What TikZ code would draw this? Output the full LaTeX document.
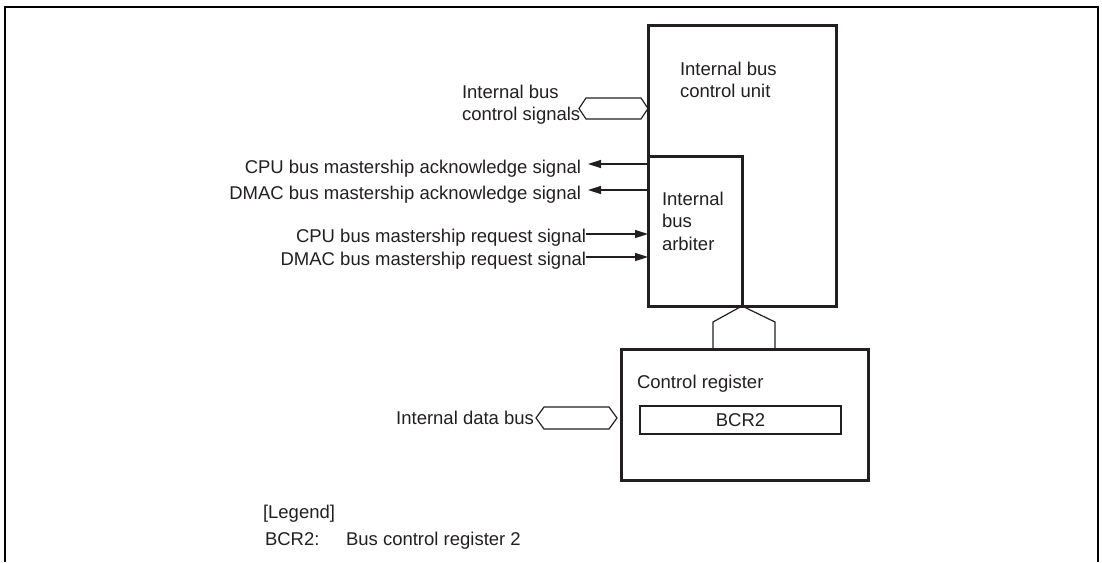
\documentclass[tikz,border=0pt]{standalone}
\usepackage{fontspec}
\setmainfont{Liberation Sans}
\usetikzlibrary{arrows.meta, positioning}
\definecolor{inkgray}{HTML}{231F20}

\begin{document}
\begin{tikzpicture}[x=1pt, y=-1pt,
    every node/.style={font=\fontsize{18.5}{22.5}\selectfont, text=inkgray},
    blockbox/.style={draw=inkgray, line width=3pt, fill=white, inner sep=0pt, outer sep=0pt, anchor=north west},
    lbl/.style={inner sep=0pt, outer sep=0pt},
    busline/.style={draw=inkgray, line width=1.2pt},
    sigarrow/.style={draw=inkgray, line width=1.5pt, -{Triangle[length=13pt, width=8pt]}}]
  \useasboundingbox (0,0) rectangle (1102,562);
  % page frame
  \draw[line width=2.5pt] (5,562) -- (5,7) -- (1098,7) -- (1098,562);

  % blocks
  \node[blockbox, minimum width=188pt, minimum height=281pt] (cunit) at (648,25) {};
  \node[blockbox, minimum width=94pt, minimum height=150pt] (arb) at (648,156) {};
  \node[blockbox, minimum width=247pt, minimum height=131pt] (creg) at (621,349) {};
  \node[blockbox, line width=2.5pt, minimum width=201pt, minimum height=28pt, anchor=center] (bcr) at (740.5,420) {BCR2};
  \node[lbl, anchor=north west, align=left] (cunitlbl) at (680,62) {Internal bus\\control unit};
  \node[lbl, anchor=north west, align=left] (arblbl) at (662,192) {Internal\\bus\\arbiter};
  \node[lbl, anchor=base west] (creglbl) at (637,388) {Control register};

  % bus control signals
  \node[lbl, anchor=north west, align=left] (ctrlsig) at (462,85) {Internal bus\\control signals};
  \draw[busline] (cunit.west |- 0,108.5) -- ++(-7,-10.5) -- ++(-55,0) -- ++(-7,10.5) -- ++(7,10.5) -- ++(55,0) -- cycle;

  % acknowledge signals
  \coordinate (ackcpu) at (588,164);
  \coordinate (ackdmac) at (588,190);
  \node[lbl, anchor=base east] (ackcpulbl) at (581,173) {CPU bus mastership acknowledge signal};
  \node[lbl, anchor=base east] (ackdmaclbl) at (581,199) {DMAC bus mastership acknowledge signal};
  \draw[sigarrow] (arb.west |- ackcpu) -- (ackcpu);
  \draw[sigarrow] (arb.west |- ackdmac) -- (ackdmac);

  % request signals
  \coordinate (reqcpu) at (586,234);
  \coordinate (reqdmac) at (586,257);
  \node[lbl, anchor=base east] (reqcpulbl) at (586,242) {CPU bus mastership request signal};
  \node[lbl, anchor=base east] (reqdmaclbl) at (586,265) {DMAC bus mastership request signal};
  \draw[sigarrow] (reqcpu) -- (arb.west |- reqcpu);
  \draw[sigarrow] (reqdmac) -- (arb.west |- reqdmac);

  % bus to control register
  \draw[busline] (creg.north -| 713,0) -- (713,322) -- (arb.south east) -- (775,322) -- (creg.north -| 775,0);

  % internal data bus
  \node[lbl, anchor=east] (databus) at (534,418) {Internal data bus};
  \draw[busline] (creg.west |- 0,418) ++(-4,0) -- ++(-8,-11) -- ++(-65,0) -- ++(-8,11) -- ++(8,11) -- ++(65,0) -- cycle;

  % legend
  \node[lbl, anchor=base west] (legend) at (263,518) {[Legend]};
  \node[lbl, anchor=base west] (legkey) at (265,545) {BCR2:};
  \node[lbl, anchor=base west] (legtext) at (346,545) {Bus control register 2};
\end{tikzpicture}
\end{document}
